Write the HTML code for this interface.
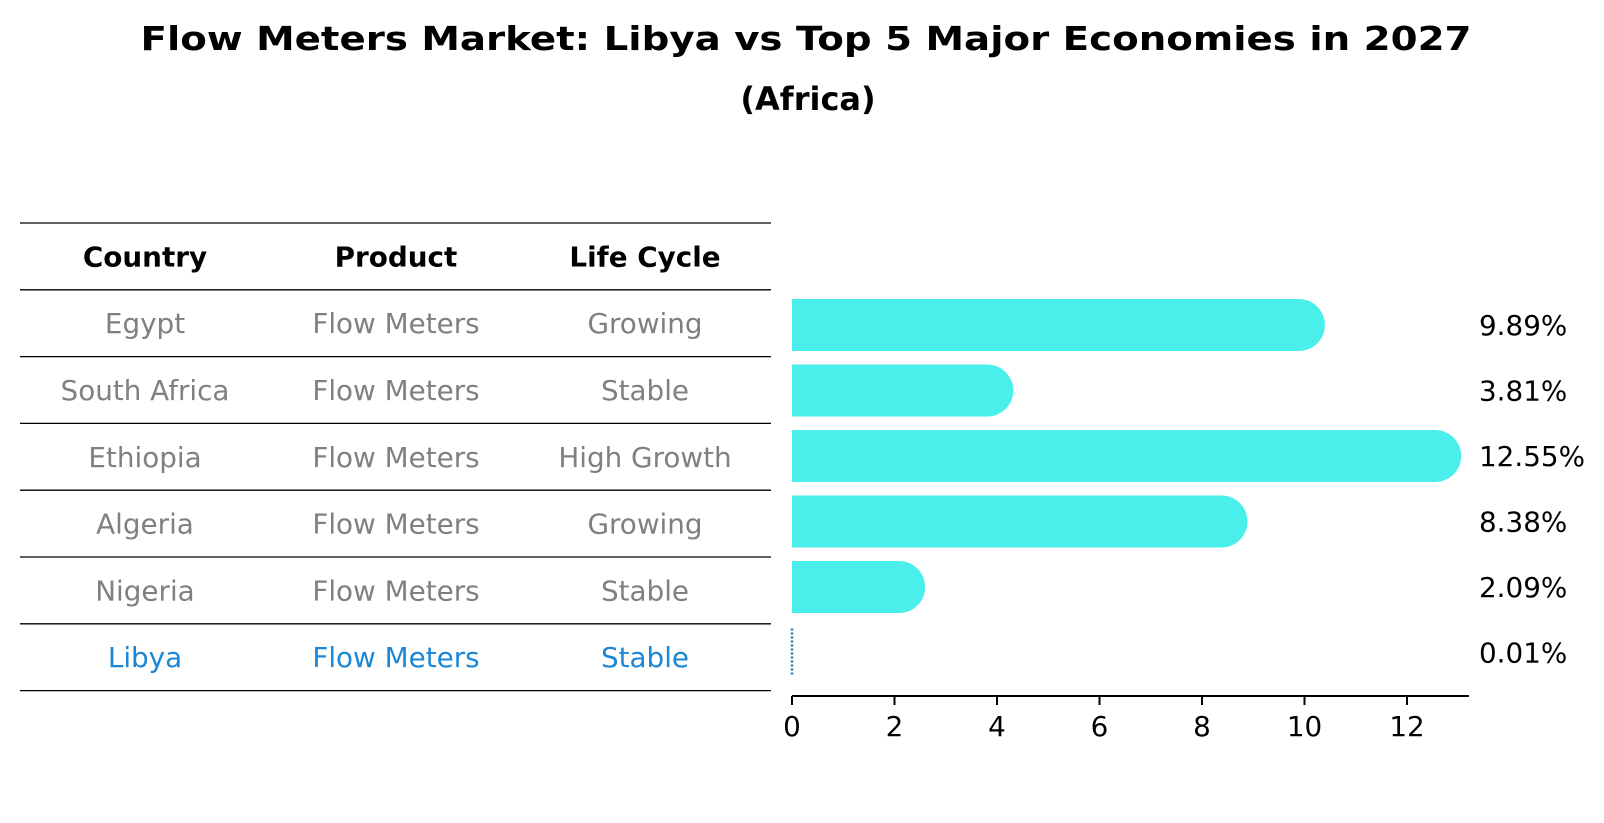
<!DOCTYPE html>
<html><head><meta charset="utf-8"><style>
html,body{margin:0;padding:0;background:#fff;}
svg{display:block;font-family:"DejaVu Sans","Liberation Sans",sans-serif;}
</style></head><body>
<svg id="chart" width="1604" height="823" viewBox="0 0 1604 823" xmlns="http://www.w3.org/2000/svg">
<text x="806" y="50" text-anchor="middle" font-weight="bold" font-size="33" textLength="1331" lengthAdjust="spacingAndGlyphs">Flow Meters Market: Libya vs Top 5 Major Economies in 2027</text>
<text x="808" y="110" text-anchor="middle" font-weight="bold" font-size="32">(Africa)</text>
<g id="table"></g>
<g id="bars"></g>
</svg>
<script>
const countries = ["Egypt","South Africa","Ethiopia","Algeria","Nigeria","Libya"];
const products = ["Flow Meters","Flow Meters","Flow Meters","Flow Meters","Flow Meters","Flow Meters"];
const lifeCycles = ["Growing","Stable","High Growth","Growing","Stable","Stable"];
const values = [9.89,3.81,12.55,8.38,2.09,0.01];
const valueLabels = ["9.89%","3.81%","12.55%","8.38%","2.09%","0.01%"];
const ticks = [0,2,4,6,8,10,12];
const headers = ["Country","Product","Life Cycle"];

const NS="http://www.w3.org/2000/svg";
function mk(tag, attrs, parent){const e=document.createElementNS(NS,tag);for(const k in attrs)e.setAttribute(k,attrs[k]);parent.appendChild(e);return e;}
const x0=792, unit=51.25;
const xs=v=>x0+v*unit;
const barY=i=>325+i*65.5;
const lineY=i=>223+i*66.8;
const colX=[145,396,645];

const tbl=document.getElementById('table');
for(let i=0;i<=countries.length+1;i++){
  const l=mk('line',{x1:20,x2:771,y1:lineY(i),y2:lineY(i),stroke:'#000','stroke-width':1.3},tbl);
  
  
}
headers.forEach((h,j)=>{
  const t=mk('text',{x:colX[j],y:(lineY(0)+lineY(1))/2+10,'text-anchor':'middle','font-weight':'bold','font-size':27.8},tbl);
  t.textContent=h;
  
  
});
countries.forEach((c,i)=>{
  const cy=(lineY(i+1)+lineY(i+2))/2+10;
  const col=c==='Libya'?'#1b87d6':'#808080';
  [c,products[i],lifeCycles[i]].forEach((v,j)=>{
    const t=mk('text',{x:colX[j],y:cy,'text-anchor':'middle','font-size':27.8,fill:col},tbl);
    t.textContent=v;
    
    
  });
});

const bg=document.getElementById('bars');
const h=52, r=26;
values.forEach((v,i)=>{
  const cy=barY(i), top=cy-h/2;
  if(v<0.1){
    const l=mk('line',{x1:x0,x2:x0,y1:top+2,y2:top+h-2,stroke:'#1f77b4','stroke-width':2.5,'stroke-dasharray':'2 2'},bg);
    
    
  } else {
    const xe=xs(v);
    const p=mk('path',{d:`M${x0},${top} L${xe},${top} A${r},${r} 0 0 1 ${xe},${top+h} L${x0},${top+h} Z`,fill:'#4aeeea'},bg);
    
    
  }
  const t=mk('text',{x:1479,y:cy+10,'font-size':27.8},bg);
  t.textContent=valueLabels[i];
  
  
});
const ax=mk('line',{x1:x0,x2:1469,y1:696,y2:696,stroke:'#000','stroke-width':2},bg);


ticks.forEach(tv=>{
  const tl=mk('line',{x1:xs(tv),x2:xs(tv),y1:696,y2:705,stroke:'#000','stroke-width':2},bg);
  
  
  const t=mk('text',{x:xs(tv),y:736,'text-anchor':'middle','font-size':27.8},bg);
  t.textContent=String(tv);
  
  
});
</script>
</body></html>
